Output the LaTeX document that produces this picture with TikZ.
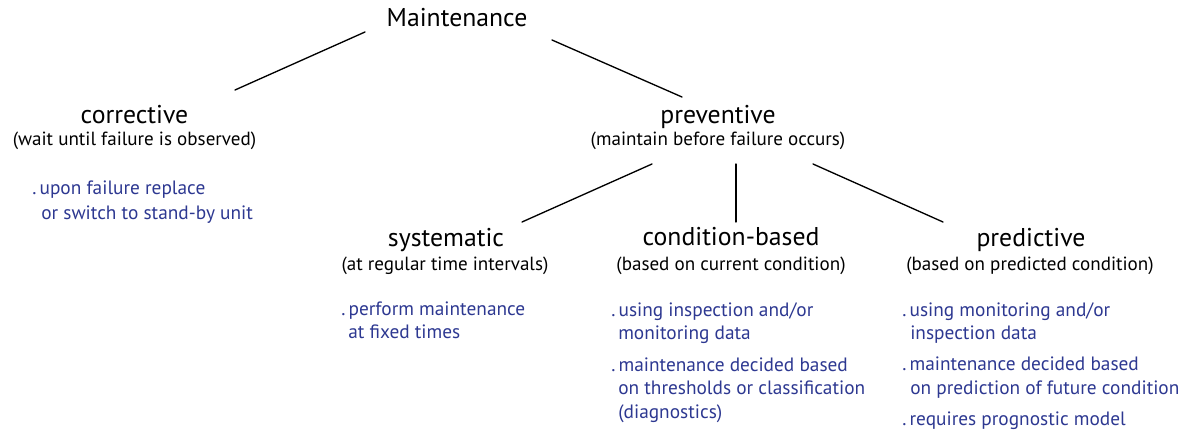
\documentclass[tikz,border=0pt]{standalone}
\usepackage{fontspec}
\setmainfont{PT Sans}
\definecolor{itemblue}{RGB}{45,56,145}
\newcommand{\itdot}{.\kern2.4pt\relax}
\begin{document}
\begin{tikzpicture}[x=0.75pt,y=-0.75pt,
  title/.style={font=\fontsize{19.3}{22}\selectfont, anchor=base, inner sep=0pt},
  sub/.style={font=\fontsize{14.3}{17}\selectfont, anchor=base, inner sep=0pt},
  item/.style={font=\fontsize{14.5}{17}\selectfont, text=itemblue, anchor=base west, inner sep=0pt},
  link/.style={line width=1pt, line cap=round}]
\useasboundingbox (0,0) rectangle (1193,435);
% level 0
\node[title] (mt) at (457,27) {Maintenance};
% level 1
\node[title] (corr) at (134.5,123) {corrective};
\node[sub] (corrsub) at (134.5,146) {(wait until failure is observed)};
\node[title] (prev) at (718,123) {preventive};
\node[sub] (prevsub) at (718,146) {(maintain before failure occurs)};
% level 2
\node[title] (sys) at (446,246) {systematic};
\node[sub] (syssub) at (445,270) {(at regular time intervals)};
\node[title] (cond) at (731,245) {condition-based};
\node[sub] (condsub) at (731,270) {(based on current condition)};
\node[title] (pred) at (1031,246) {predictive};
\node[sub] (predsub) at (1030,270) {(based on predicted condition)};
% items
\node[item] (c1a) at (32,195) {\itdot upon failure replace};
\node[item] (c1b) at (41,219) {or switch to stand-by unit};
\node[item] (s1a) at (341,315) {\itdot perform maintenance};
\node[item] (s1b) at (348,338) {at fixed times};
\node[item] (d1a) at (611,316) {\itdot using inspection and/or};
\node[item] (d1b) at (618,339) {monitoring data};
\node[item] (d2a) at (611,371) {\itdot maintenance decided based};
\node[item] (d2b) at (618,394) {on thresholds or classification};
\node[item] (d2c) at (618,418) {(diagnostics)};
\node[item] (p1a) at (902,316) {\itdot using monitoring and/or};
\node[item] (p1b) at (910,339) {inspection data};
\node[item] (p2a) at (902,370) {\itdot maintenance decided based};
\node[item] (p2b) at (910,394) {on prediction of future condition};
\node[item] (p3a) at (902,425) {\itdot requires prognostic model};
% connector ends
\coordinate (mtL) at (365,32);
\coordinate (mtR) at (552,40);
\coordinate (corrT) at (235,90);
\coordinate (prevT) at (682,97);
\coordinate (prevL) at (652,164);
\coordinate (prevM) at (736,164);
\coordinate (prevR) at (813,164);
\coordinate (sysT) at (522,222);
\coordinate (condT) at (736,222);
\coordinate (predT) at (943,222);
\draw[link] (mtL) -- (corrT);
\draw[link] (mtR) -- (prevT);
\draw[link] (prevL) -- (sysT);
\draw[link] (prevM) -- (condT);
\draw[link] (prevR) -- (predT);
\end{tikzpicture}
\end{document}
